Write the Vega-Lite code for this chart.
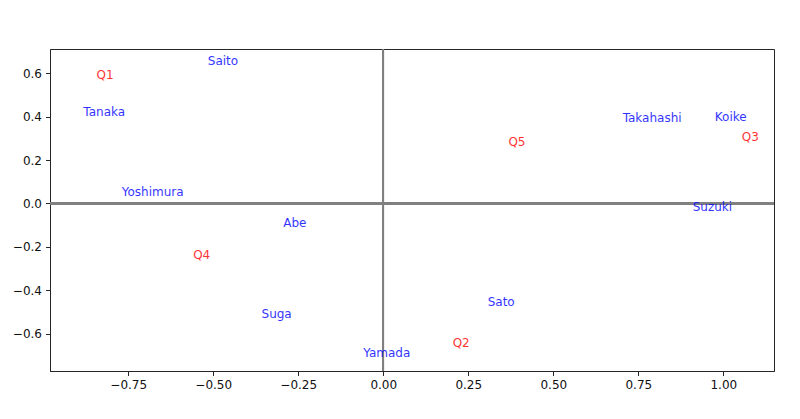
{
  "$schema": "https://vega.github.io/schema/vega-lite/v6.json",
  "autosize": "none",
  "width": 724,
  "height": 322,
  "padding": {"left": 50, "top": 49, "right": 26, "bottom": 48},
  "background": "white",
  "config": {
    "view": {"stroke": "#262626", "strokeWidth": 1},
    "font": "DejaVu Sans",
    "axis": {
      "grid": false,
      "domainColor": "#262626",
      "domainWidth": 1,
      "tickColor": "#262626",
      "tickSize": 4.5,
      "tickWidth": 1,
      "labelFont": "DejaVu Sans",
      "labelFontSize": 12,
      "labelColor": "#111111",
      "labelPadding": 4,
      "title": null
    }
  },
  "datasets": {
    "pts": [
      {"label": "Q1", "kind": "question", "x": -0.843, "y": 0.576},
      {"label": "Saito", "kind": "person", "x": -0.516, "y": 0.641},
      {"label": "Tanaka", "kind": "person", "x": -0.882, "y": 0.406},
      {"label": "Yoshimura", "kind": "person", "x": -0.769, "y": 0.034},
      {"label": "Takahashi", "kind": "person", "x": 0.704, "y": 0.375},
      {"label": "Koike", "kind": "person", "x": 0.975, "y": 0.379},
      {"label": "Q3", "kind": "question", "x": 1.054, "y": 0.287},
      {"label": "Q5", "kind": "question", "x": 0.368, "y": 0.267},
      {"label": "Suzuki", "kind": "person", "x": 0.910, "y": -0.035},
      {"label": "Abe", "kind": "person", "x": -0.294, "y": -0.107},
      {"label": "Q4", "kind": "question", "x": -0.559, "y": -0.255},
      {"label": "Suga", "kind": "person", "x": -0.358, "y": -0.527},
      {"label": "Yamada", "kind": "person", "x": -0.059, "y": -0.708},
      {"label": "Sato", "kind": "person", "x": 0.307, "y": -0.473},
      {"label": "Q2", "kind": "question", "x": 0.204, "y": -0.660}
    ]
  },
  "data": {"name": "pts"},
  "layer": [
    {
      "mark": {"type": "rule", "color": "#808080", "strokeWidth": 1.5},
      "encoding": {"y": {"datum": 0, "type": "quantitative", "scale": {"domain": [-0.773, 0.713], "nice": false, "zero": false}}}
    },
    {
      "mark": {"type": "rule", "color": "#808080", "strokeWidth": 1.5},
      "encoding": {"x": {"datum": 0, "type": "quantitative", "scale": {"domain": [-0.98, 1.149], "nice": false, "zero": false}}}
    },
    {
      "mark": {"type": "text", "align": "left", "baseline": "alphabetic", "fontSize": 12, "font": "DejaVu Sans", "opacity": 0.8},
      "encoding": {
        "x": {
          "field": "x", "type": "quantitative",
          "scale": {"domain": [-0.98, 1.149], "nice": false, "zero": false},
          "axis": {"values": [-0.75, -0.5, -0.25, 0, 0.25, 0.5, 0.75, 1.0], "format": ".2f"}
        },
        "y": {
          "field": "y", "type": "quantitative",
          "scale": {"domain": [-0.773, 0.713], "nice": false, "zero": false},
          "axis": {"values": [-0.6, -0.4, -0.2, 0, 0.2, 0.4, 0.6], "format": ".1f"}
        },
        "text": {"field": "label"},
        "color": {"field": "kind", "type": "nominal", "scale": {"domain": ["person", "question"], "range": ["blue", "red"]}, "legend": null}
      }
    }
  ]
}
